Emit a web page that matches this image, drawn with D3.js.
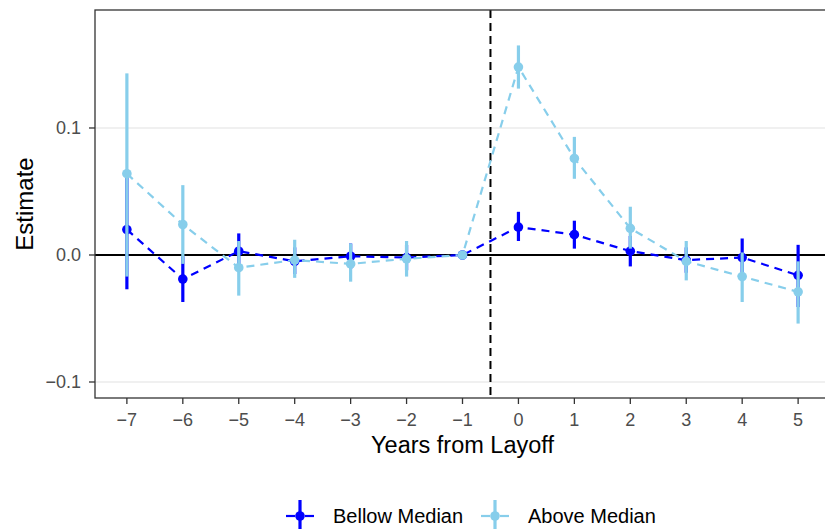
<!DOCTYPE html>
<html>
<head>
<meta charset="utf-8">
<script src="https://cdn.jsdelivr.net/npm/d3@7"></script>
<style>
  body { margin: 0; background: #fff; }
  svg { display: block; font-family: "Liberation Sans", Arial, Helvetica, sans-serif; }
</style>
</head>
<body>
<svg id="chart" width="825" height="529"></svg>
<script>
// Event-study estimates by years from layoff
const years = [-7, -6, -5, -4, -3, -2, -1, 0, 1, 2, 3, 4, 5];

const belowEst   = [0.020, -0.019, 0.003, -0.005, -0.001, -0.002, 0.000, 0.022, 0.016, 0.003, -0.004, -0.002, -0.016];
const belowLow   = [-0.027, -0.037, -0.010, -0.015, -0.011, -0.012, 0.000, 0.011, 0.005, -0.009, -0.014, -0.017, -0.041];
const belowHigh  = [0.067, -0.001, 0.017, 0.006, 0.009, 0.008, 0.000, 0.034, 0.027, 0.015, 0.006, 0.013, 0.008];

const aboveEst   = [0.064, 0.024, -0.010, -0.004, -0.007, -0.003, 0.000, 0.148, 0.076, 0.021, -0.005, -0.017, -0.029];
const aboveLow   = [-0.017, -0.007, -0.032, -0.018, -0.021, -0.017, 0.000, 0.131, 0.060, 0.005, -0.020, -0.037, -0.054];
const aboveHigh  = [0.143, 0.055, 0.011, 0.012, 0.009, 0.011, 0.000, 0.165, 0.093, 0.038, 0.011, 0.002, -0.005];

const seriesNames = ["Bellow Median", "Above Median"];
const seriesColors = ["#0000FF", "#87CEEB"];

const yTicks = [-0.1, 0.0, 0.1];
const yTickLabels = ["\u22120.1", "0.0", "0.1"];

const series = [
  { name: seriesNames[0], color: seriesColors[0], est: belowEst, lo: belowLow, hi: belowHigh },
  { name: seriesNames[1], color: seriesColors[1], est: aboveEst, lo: aboveLow, hi: aboveHigh }
];

const svg = d3.select("#chart");
const panel = { left: 95, top: 10, right: 830, bottom: 398 };

const x = d3.scaleLinear().domain([-7.57, 5.57]).range([panel.left, panel.right]);
const y = d3.scaleLinear().domain([-0.1126, 0.1929]).range([panel.bottom, panel.top]);

// grid lines
svg.append("g").selectAll("line").data(yTicks).join("line")
  .attr("x1", panel.left).attr("x2", panel.right)
  .attr("y1", d => y(d)).attr("y2", d => y(d))
  .attr("stroke", "#EBEBEB").attr("stroke-width", 1.6);

// reference lines
svg.append("line")
  .attr("x1", panel.left).attr("x2", panel.right)
  .attr("y1", y(0)).attr("y2", y(0))
  .attr("stroke", "#000").attr("stroke-width", 1.9);

svg.append("line")
  .attr("x1", x(-0.5)).attr("x2", x(-0.5))
  .attr("y1", panel.top).attr("y2", panel.bottom)
  .attr("stroke", "#000").attr("stroke-width", 2)
  .attr("stroke-dasharray", "8,5");

// dashed connecting lines
const line = d3.line().x((d, i) => x(years[i])).y(d => y(d));
series.forEach(s => {
  svg.append("path")
    .datum(s.est)
    .attr("d", line)
    .attr("fill", "none")
    .attr("stroke", s.color)
    .attr("stroke-width", 2.2)
    .attr("stroke-dasharray", "8,6");
});

// point ranges
series.forEach(s => {
  const g = svg.append("g");
  g.selectAll("line").data(years).join("line")
    .attr("x1", d => x(d)).attr("x2", d => x(d))
    .attr("y1", (d, i) => y(s.lo[i])).attr("y2", (d, i) => y(s.hi[i]))
    .attr("stroke", s.color).attr("stroke-width", 3.2);
  g.selectAll("circle").data(years).join("circle")
    .attr("cx", d => x(d)).attr("cy", (d, i) => y(s.est[i]))
    .attr("r", 4.8).attr("fill", s.color);
});

// panel border
svg.append("rect")
  .attr("x", panel.left).attr("y", panel.top)
  .attr("width", panel.right - panel.left).attr("height", panel.bottom - panel.top)
  .attr("fill", "none").attr("stroke", "#333333").attr("stroke-width", 1.3);

// y axis
const yAxis = svg.append("g");
yAxis.selectAll("line").data(yTicks).join("line")
  .attr("x1", panel.left - 6).attr("x2", panel.left)
  .attr("y1", d => y(d)).attr("y2", d => y(d))
  .attr("stroke", "#333333").attr("stroke-width", 1.3);
yAxis.selectAll("text").data(yTicks).join("text")
  .attr("x", panel.left - 14).attr("y", d => y(d))
  .attr("dy", "0.36em").attr("text-anchor", "end")
  .attr("font-size", 18).attr("fill", "#4D4D4D")
  .text((d, i) => yTickLabels[i]);

// x axis
const xAxis = svg.append("g");
xAxis.selectAll("line").data(years).join("line")
  .attr("x1", d => x(d)).attr("x2", d => x(d))
  .attr("y1", panel.bottom).attr("y2", panel.bottom + 6)
  .attr("stroke", "#333333").attr("stroke-width", 1.3);
xAxis.selectAll("text").data(years).join("text")
  .attr("x", d => x(d)).attr("y", panel.bottom + 28)
  .attr("text-anchor", "middle")
  .attr("font-size", 18).attr("fill", "#4D4D4D")
  .text(d => d < 0 ? "\u2212" + Math.abs(d) : String(d));

// axis titles
svg.append("text")
  .attr("x", (panel.left + panel.right) / 2).attr("y", 453)
  .attr("text-anchor", "middle").attr("font-size", 23.5).attr("fill", "#000")
  .text("Years from Layoff");

svg.append("text")
  .attr("transform", `translate(33,${(panel.top + panel.bottom) / 2}) rotate(-90)`)
  .attr("text-anchor", "middle").attr("font-size", 24).attr("fill", "#000")
  .text("Estimate");

// legend
const legendY = 516;
const legendX = [300, 495];
series.forEach((s, k) => {
  const g = svg.append("g").attr("transform", `translate(${legendX[k]},${legendY})`);
  g.append("line").attr("x1", -14).attr("x2", -5).attr("y1", 0).attr("y2", 0)
    .attr("stroke", s.color).attr("stroke-width", 2.2);
  g.append("line").attr("x1", 5).attr("x2", 14).attr("y1", 0).attr("y2", 0)
    .attr("stroke", s.color).attr("stroke-width", 2.2);
  g.append("line").attr("x1", 0).attr("x2", 0).attr("y1", -16).attr("y2", 16)
    .attr("stroke", s.color).attr("stroke-width", 3.2);
  g.append("circle").attr("r", 4.8).attr("fill", s.color);
  g.append("text").attr("x", 33).attr("y", 0).attr("dy", "0.36em")
    .attr("font-size", 20).attr("fill", "#000").text(s.name);
});
</script>
</body>
</html>
